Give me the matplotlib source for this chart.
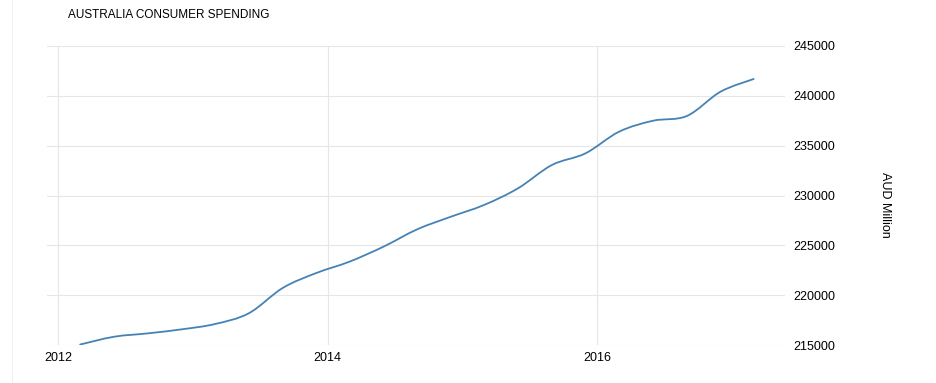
import matplotlib
matplotlib.use("Agg")
import matplotlib.pyplot as plt
import matplotlib.dates as mdates
import pandas as pd
import numpy as np
from matplotlib.lines import Line2D
from matplotlib.path import Path
from matplotlib.patches import PathPatch

title = "AUSTRALIA CONSUMER SPENDING"
y_label = "AUD Million"
dates = pd.date_range("2012-03-01", periods=21, freq="3MS")
values = [215050, 215830, 216170, 216570, 217100, 218180, 220720, 222220,
          223360, 224860, 226610, 227870, 229050, 230720, 233060, 234230,
          236400, 237500, 237980, 240410, 241690]
y_ticks = [215000, 220000, 225000, 230000, 235000, 240000, 245000]
x_tick_years = [2012, 2014, 2016]

plt.rcParams['font.family'] = ['Liberation Sans', 'DejaVu Sans']

fig = plt.figure(figsize=(9.36, 3.83), dpi=100)
W, H = 936, 383
ax = fig.add_axes([47 / W, 1 - 345 / H, (785 - 47) / W, (345 - 46) / H])

# smooth spline-style rendering of the series (Catmull-Rom via cubic Bezier)
xs = mdates.date2num(dates.to_pydatetime())
ys = np.asarray(values, dtype=float)
verts = [(xs[0], ys[0])]
codes = [Path.MOVETO]
n = len(xs)
for i in range(n - 1):
    p0 = (xs[max(i - 1, 0)], ys[max(i - 1, 0)])
    p1 = (xs[i], ys[i])
    p2 = (xs[i + 1], ys[i + 1])
    p3 = (xs[min(i + 2, n - 1)], ys[min(i + 2, n - 1)])
    c1 = (p1[0] + (p2[0] - p0[0]) / 6, p1[1] + (p2[1] - p0[1]) / 6)
    c2 = (p2[0] - (p3[0] - p1[0]) / 6, p2[1] - (p3[1] - p1[1]) / 6)
    verts += [c1, c2, p2]
    codes += [Path.CURVE4] * 3
ax.add_patch(PathPatch(Path(verts, codes), fill=False, edgecolor="#4682b4", lw=1.3,
                       capstyle="round", zorder=3))

xt = [pd.Timestamp(f"{y}-01-01") for y in x_tick_years]
ax.set_xticks(xt)
ax.set_xticklabels([str(y) for y in x_tick_years])
left = pd.Timestamp("2012-01-01") - pd.Timedelta(days=30)
right = pd.Timestamp("2017-05-25")
ax.set_xlim(left, right)
ax.set_ylim(215000, 245000)
ax.set_yticks(y_ticks)
ax.set_yticklabels([str(v) for v in y_ticks])

ax.yaxis.tick_right()
ax.tick_params(axis="y", length=0, pad=6, labelsize=9, colors="black")
ax.tick_params(axis="x", length=0, pad=5, labelsize=9, colors="black")
ax.grid(True, color="#e6e6e6", lw=0.8)
for s in ax.spines.values():
    s.set_visible(False)

fig.text(885 / W, 1 - 205 / H, y_label, rotation=270, fontsize=9, color="black",
         ha="center", va="center")
fig.text(68 / W, 1 - 15 / H, title, fontsize=8.5, color="black", va="center", ha="left")
fig.add_artist(Line2D([12 / W, 12 / W], [0, 1], color="#f0f0f0", lw=0.8, transform=fig.transFigure))

fig.savefig("out.png", dpi=100)
